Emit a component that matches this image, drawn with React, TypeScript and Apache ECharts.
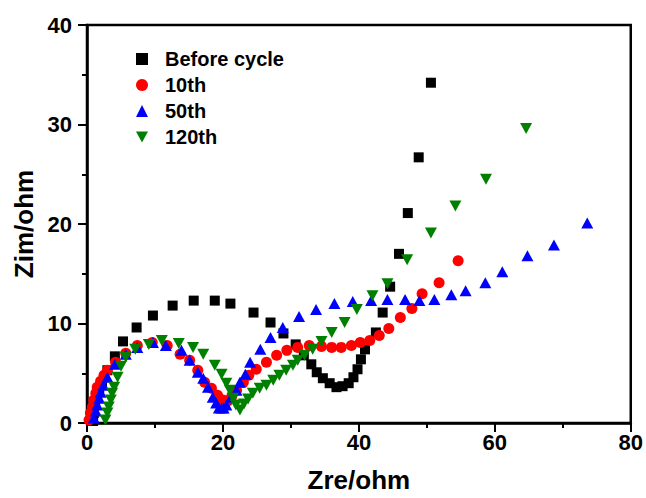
import React, { useEffect, useRef } from "react";
import * as echarts from "echarts";

const seriesNames = ["Before cycle", "10th", "50th", "120th"];

const beforeCycle = [
  [0.9, 0.2], [1.0, 1.0], [1.2, 1.8], [1.5, 2.6], [1.8, 3.4], [2.2, 4.1], [3.0, 5.3], [4.1, 6.7],
  [5.3, 8.2], [7.3, 9.6], [9.7, 10.8], [12.6, 11.8], [15.7, 12.3], [18.8, 12.3], [21.1, 12.0],
  [24.5, 11.1], [27.0, 10.1], [28.9, 9.0], [30.7, 7.9], [31.9, 6.8], [33.0, 5.9], [33.8, 5.1],
  [34.7, 4.5], [35.7, 4.0], [36.7, 3.6], [37.6, 3.7], [38.5, 4.0], [39.2, 4.6], [39.8, 5.4],
  [40.3, 6.4], [40.9, 7.4], [42.5, 9.1], [43.5, 11.1], [44.6, 13.7], [45.9, 17.0], [47.2, 21.1],
  [48.8, 26.7], [50.6, 34.2],
];

const cycle10 = [
  [0.3, 0.3], [0.5, 1.0], [0.8, 1.6], [1.0, 2.3], [1.3, 3.0], [1.5, 3.6], [2.0, 4.2], [2.5, 4.8],
  [3.0, 5.3], [4.2, 6.1], [5.7, 7.0], [7.4, 7.8], [9.6, 8.1], [11.8, 7.8], [13.7, 6.9], [15.1, 6.3],
  [16.3, 5.3], [17.3, 4.1], [18.3, 3.5], [19.2, 2.8], [20.0, 2.3], [20.7, 2.2], [21.3, 2.7],
  [22.0, 3.3], [23.0, 4.1], [23.8, 4.8], [24.9, 5.4], [26.4, 6.1], [27.9, 6.8], [29.4, 7.3],
  [31.0, 7.6], [32.7, 7.8], [34.5, 7.7], [36.0, 7.6], [37.4, 7.6], [38.9, 7.8], [40.2, 8.1],
  [41.6, 8.3], [43.0, 8.8], [44.4, 9.5], [46.1, 10.6], [47.8, 11.5], [49.3, 13.0], [51.8, 14.1],
  [54.6, 16.3],
];

const cycle50 = [
  [1.0, 0.5], [1.3, 1.2], [1.5, 1.8], [1.8, 2.5], [2.0, 3.1], [2.4, 3.8], [3.0, 4.6], [4.1, 5.9],
  [5.7, 6.9], [7.4, 7.6], [9.7, 8.1], [11.6, 7.8], [13.9, 7.3], [15.1, 6.3], [16.3, 5.1],
  [17.1, 4.5], [17.8, 3.6], [18.5, 2.6], [19.0, 2.0], [19.4, 1.5], [19.8, 1.5], [20.1, 1.5],
  [20.5, 1.8], [21.2, 2.6], [22.0, 3.3], [22.5, 4.1], [23.3, 4.9], [24.0, 6.1], [25.5, 7.4],
  [27.0, 8.6], [28.8, 9.6], [31.2, 10.7], [33.7, 11.4], [36.4, 12.0], [39.1, 12.2], [41.8, 12.3],
  [44.2, 12.4], [46.8, 12.4], [48.9, 12.3], [51.1, 12.4], [53.6, 12.9], [55.7, 13.3], [58.6, 14.1],
  [61.1, 15.2], [64.8, 16.8], [68.7, 17.9], [73.6, 20.1],
];

const cycle120 = [
  [2.7, 0.3], [3.0, 1.0], [3.2, 1.6], [3.5, 2.3], [3.7, 3.0], [4.0, 3.6], [4.5, 4.6], [5.0, 5.7],
  [5.7, 6.6], [7.1, 7.4], [9.1, 7.9], [11.0, 8.3], [13.5, 8.0], [15.6, 7.6], [17.1, 6.9],
  [18.8, 5.8], [19.8, 4.9], [20.5, 4.0], [21.0, 3.3], [21.5, 2.5], [21.9, 1.8], [22.5, 1.3],
  [23.1, 1.9], [23.7, 2.4], [24.4, 3.0], [25.4, 3.5], [26.4, 3.8], [27.4, 4.3], [28.3, 4.8],
  [29.3, 5.3], [30.3, 5.8], [31.0, 6.3], [32.0, 6.8], [33.2, 7.4], [34.5, 8.2], [36.0, 9.1],
  [37.9, 10.1], [39.7, 11.4], [42.0, 12.8], [44.2, 14.0], [47.1, 16.4], [50.6, 19.1], [54.2, 21.8],
  [58.7, 24.5], [64.6, 29.6],
];

const seriesData = [beforeCycle, cycle10, cycle50, cycle120];

export default function App() {
  const ref = useRef<HTMLDivElement>(null);
  useEffect(() => {
    if (!ref.current) return;
    const chart = echarts.init(ref.current, null, { renderer: "svg" });
    const font = "'Liberation Sans', Arial, sans-serif";
    const colors = ["#000000", "#ff0000", "#0000ff", "#008000"];
    const symbols = ["rect", "circle", "triangle", "path://M0,0L10,0L5,9Z"];
    const sizes: any[] = [10, 11, [12, 11], [12, 11]];
    const axisCommon = {
      axisLine: { show: true, onZero: false, lineStyle: { color: "#000", width: 2.5 } },
      axisTick: { show: true, inside: false, length: 9, lineStyle: { color: "#000", width: 2 } },
      minorTick: { show: true, splitNumber: 2, length: 5, lineStyle: { color: "#000", width: 2 } },
      splitLine: { show: false },
      nameTextStyle: { fontFamily: font, fontWeight: "bold", fontSize: 26, color: "#000" },
    };
    chart.setOption({
      animation: false,
      backgroundColor: "#ffffff",
      grid: {
        left: 87,
        right: 14,
        top: 25,
        bottom: 60,
        show: true,
        borderColor: "#000",
        borderWidth: 2.5,
      },
      legend: {
        orient: "vertical",
        left: 131,
        top: 44,
        itemWidth: 12,
        itemHeight: 12,
        itemGap: 6,
        data: seriesNames,
        textStyle: {
          fontFamily: font,
          fontWeight: "bold",
          fontSize: 20,
          color: "#000",
          padding: [0, 0, 0, 12],
        },
      },
      xAxis: {
        type: "value",
        min: 0,
        max: 80,
        interval: 20,
        name: "Zre/ohm",
        nameLocation: "middle",
        nameGap: 44,
        ...axisCommon,
        axisLabel: { margin: 8, fontFamily: font, fontWeight: "bold", fontSize: 22, color: "#000" },
      },
      yAxis: {
        type: "value",
        min: 0,
        max: 40,
        interval: 10,
        name: "Zim/ohm",
        nameLocation: "middle",
        nameGap: 49,
        ...axisCommon,
        axisLabel: { margin: 15, fontFamily: font, fontWeight: "bold", fontSize: 22, color: "#000" },
      },
      series: seriesNames.map((name, i) => ({
        name,
        type: "scatter",
        data: seriesData[i],
        symbol: symbols[i],
        symbolSize: sizes[i],
        itemStyle: { color: colors[i], opacity: 1 },
        emphasis: { disabled: true },
      })),
    });
    return () => chart.dispose();
  }, []);
  return <div ref={ref} style={{ width: 646, height: 498, position: "absolute", left: 0, top: 0 }} />;
}
